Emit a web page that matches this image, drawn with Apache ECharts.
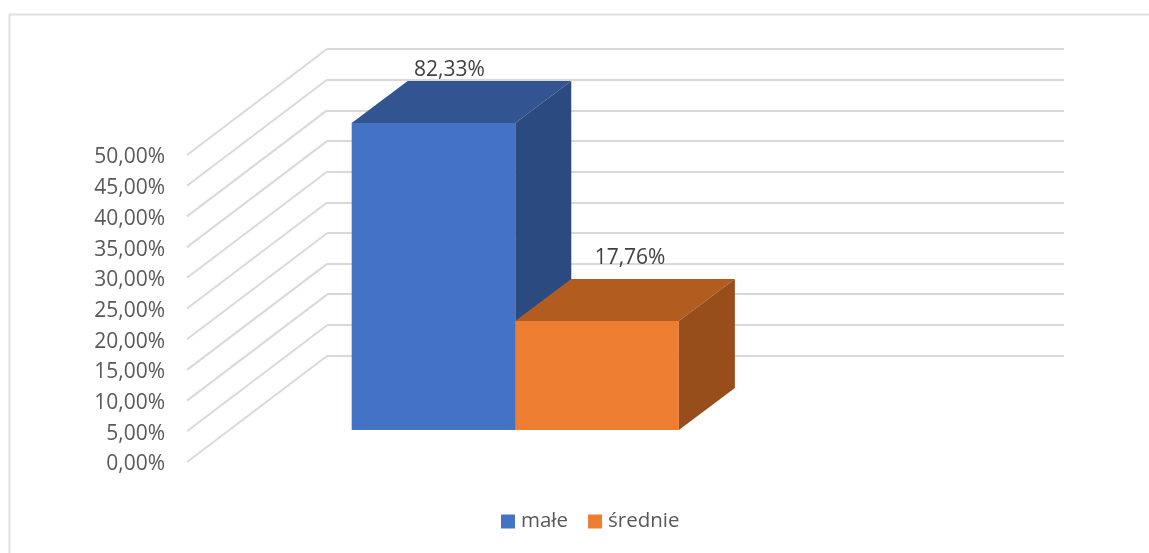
<!DOCTYPE html>
<html><head><meta charset="utf-8">
<style>html,body{margin:0;padding:0;background:#fff}#c{width:1149px;height:553px}</style>
<script src="https://cdn.jsdelivr.net/npm/echarts@6/dist/echarts.min.js"></script>
</head><body><div id="c"></div>
<script>
const seriesNames = ['małe', 'średnie'];
const seriesValues = [82.33, 17.76];
const yTicks = [0, 5, 10, 15, 20, 25, 30, 35, 40, 45, 50];
const axisMax = 50;

const FONT = '"Open Sans", sans-serif';
const faceColors = [
  { front: '#4472C4', top: '#325591', side: '#2A4A80' },
  { front: '#ED7D31', top: '#B35C20', side: '#974E1A' }
];
const WALL = [140, -106], PLACE = [41, -32], DEPTH = [56, -42];
const labelShift = [[16, -53], [33, -63]];
const fmt = v => v.toFixed(2).replace('.', ',') + '%';

function barRender(idx) {
  return function (params, api) {
    const val = Math.min(api.value(1), axisMax);
    const base = api.coord([idx, 0]), end = api.coord([idx + 1, 0]), top = api.coord([idx, val]);
    const x0 = base[0] + PLACE[0], x1 = end[0] + PLACE[0];
    const yb = base[1] + PLACE[1], yt = top[1] + PLACE[1];
    const c = faceColors[idx];
    const dx = DEPTH[0], dy = DEPTH[1];
    const poly = (pts, fill) => ({ type: 'polygon', shape: { points: pts }, style: { fill } });
    return {
      type: 'group',
      children: [
        poly([[x0, yt], [x1, yt], [x1 + dx, yt + dy], [x0 + dx, yt + dy]], c.top),
        poly([[x1, yt], [x1 + dx, yt + dy], [x1 + dx, yb + dy], [x1, yb]], c.side),
        poly([[x0, yt], [x1, yt], [x1, yb], [x0, yb]], c.front),
        { type: 'text', style: {
            text: fmt(api.value(2)),
            x: (x0 + x1) / 2 + labelShift[idx][0], y: yt + labelShift[idx][1],
            align: 'center', verticalAlign: 'middle',
            font: '21px ' + FONT, fill: '#404040' } }
      ]
    };
  };
}

const barSeries = seriesNames.map((name, i) => ({
  name, type: 'custom', xAxisIndex: 0, yAxisIndex: 0, z: 5 + i,
  coordinateSystem: 'cartesian2d',
  itemStyle: { color: faceColors[i].front },
  renderItem: barRender(i),
  data: [[i, Math.min(seriesValues[i], axisMax), seriesValues[i]]],
  encode: { x: 0, y: 1 }, silent: true
}));

const option = {
  animation: false,
  backgroundColor: '#fff',
  graphic: [{ type: 'polyline', shape: { points: [[9.5, 553], [9.5, 14.5], [1149, 14.5]] },
    style: { stroke: '#e0e0e0', lineWidth: 2, fill: 'none' }, z: 0 }],
  grid: [
    { left: 187, top: 155, width: 737, height: 307 },
    { left: 327, top: 49, width: 737, height: 306.5 }
  ],
  xAxis: [
    { type: 'value', gridIndex: 0, min: -0.756, max: 3.749, show: false },
    { type: 'value', gridIndex: 1, min: 0, max: 1, show: false }
  ],
  yAxis: [
    { type: 'value', gridIndex: 0, min: 0, max: axisMax, interval: 5,
      axisLine: { show: false }, axisTick: { show: false }, splitLine: { show: false },
      axisLabel: { margin: 22, formatter: fmt, fontFamily: FONT, fontSize: 21, color: '#595959',
        verticalAlign: 'top', lineHeight: 5 } },
    { type: 'value', gridIndex: 1, min: 0, max: axisMax, interval: 5,
      axisLine: { show: false }, axisTick: { show: false }, axisLabel: { show: false },
      splitLine: { show: true, lineStyle: { color: '#d9d9d9', width: 2 } } }
  ],
  legend: {
    data: seriesNames, left: 496, top: 506, icon: 'rect', itemWidth: 14, itemHeight: 14, itemGap: 20,
    selectedMode: false,
    textStyle: { fontFamily: FONT, fontSize: 20.5, color: '#595959', padding: [0, 0, 0, 1] }
  },
  series: [
    { type: 'custom', xAxisIndex: 0, yAxisIndex: 0, z: 1, silent: true,
      renderItem: (p, api) => {
        const a = api.coord([-0.756, api.value(0)]);
        return { type: 'line', shape: { x1: a[0], y1: a[1], x2: a[0] + WALL[0], y2: a[1] + WALL[1] },
          style: { stroke: '#d9d9d9', lineWidth: 2, fill: null } };
      },
      data: yTicks.map(t => [t]), encode: { y: 0 } },
    ...barSeries
  ]
};
echarts.init(document.getElementById('c'), null, { renderer: 'canvas' }).setOption(option);
</script></body></html>
